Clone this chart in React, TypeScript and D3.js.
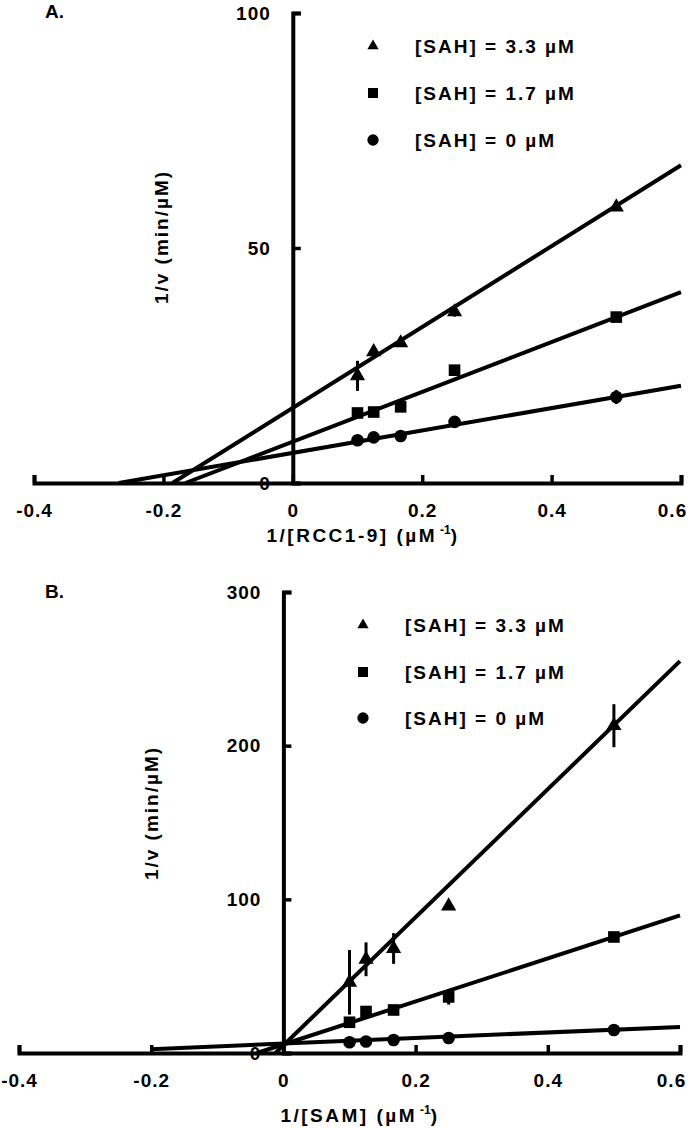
import React, { useEffect, useRef } from 'react';
import * as d3 from 'd3';

// shared x positions (1/[substrate], µM^-1)
const xTicks = [-0.4, -0.2, 0, 0.2, 0.4, 0.6];
const xInv = [0.1, 0.125, 0.1667, 0.25, 0.5];
const seriesNames = ['[SAH] = 3.3 µM', '[SAH] = 1.7 µM', '[SAH] = 0 µM'];
const markerTypes = ['triangle', 'square', 'circle'];

// panel A : 1/[RCC1-9]
const aTicksY = [0, 50, 100];
const aTri = [22.8, 27.9, 29.8, 36.4, 58.7];
const aTriErr = [3.2, 0.8, 0.5, 1.0, 0.8];
const aSq = [14.9, 15.1, 16.2, 24.0, 35.3];
const aSqErr = [0.5, 1.0, 0.5, 0.5, 0.5];
const aCirc = [9.1, 9.7, 10.0, 13.0, 18.3];
const aCircErr = [0.3, 0.3, 1.2, 0.5, 1.5];
const aLineTri = [[-0.186, 0], [0.6, 67.6]];
const aLineSq = [[-0.166, 0], [0.6, 40.6]];
const aLineCirc = [[-0.269, 0], [0.6, 20.7]];

// panel B : 1/[SAM]
const bTicksY = [0, 100, 200, 300];
const bTri = [46, 61, 68, 95.6, 213];
const bTriErr = [21, 11, 10, 0, 14];
const bSq = [20, 27, 28, 36.5, 75.5];
const bSqErr = [2, 2, 3, 5, 1];
const bCirc = [7, 7.5, 8.5, 9.8, 15];
const bCircErr = [0.5, 0.5, 0.5, 1, 1];
const bLineTri = [[-0.012, 0], [0.6, 255]];
const bLineSq = [[-0.04, 0], [0.6, 89.5]];
const bLineCirc = [[-0.2, 2.5], [0.6, 17]];

const FONT = "'Liberation Sans', Arial, sans-serif";

const panelA = {
  label: 'A.', labelX: 45, labelY: 18,
  xRange: [34, 681], yDomain: [0, 100], yRange: [483, 13], yTicks: aTicksY,
  xTitle: '1/[RCC1-9] (µM', xTitleX: 363, xTitleY: 542,
  yTitleX: 161, yTitleY: 237,
  legendX: 373, legendTextX: 415, legendY: [46, 93, 140],
  values: [aTri, aSq, aCirc], errs: [aTriErr, aSqErr, aCircErr],
  lines: [aLineTri, aLineSq, aLineCirc],
};

const panelB = {
  label: 'B.', labelX: 45, labelY: 598,
  xRange: [19, 680], yDomain: [0, 300], yRange: [1053, 592], yTicks: bTicksY,
  xTitle: '1/[SAM] (µM', xTitleX: 360, xTitleY: 1122,
  yTitleX: 151, yTitleY: 813,
  legendX: 363, legendTextX: 405, legendY: [625, 672, 718],
  values: [bTri, bSq, bCirc], errs: [bTriErr, bSqErr, bCircErr],
  lines: [bLineTri, bLineSq, bLineCirc],
};

function symbolFor(type, big) {
  if (type === 'triangle') return d3.symbol().type(d3.symbolTriangle).size(big ? 100 : 55)();
  if (type === 'square') return d3.symbol().type(d3.symbolSquare).size(big ? 135 : 100)();
  return d3.symbol().type(d3.symbolCircle).size(big ? 125 : 100)();
}

function drawPanel(svg, cfg) {
  const x = d3.scaleLinear().domain([-0.4, 0.6]).range(cfg.xRange);
  const y = d3.scaleLinear().domain(cfg.yDomain).range(cfg.yRange);
  const g = svg.append('g');

  // fitted lines
  const line = d3.line().x(d => x(d[0])).y(d => y(d[1]));
  cfg.lines.forEach(pts => {
    g.append('path').attr('d', line(pts)).attr('fill', 'none')
      .attr('stroke', '#000').attr('stroke-width', 4);
  });

  // axes
  const gx = g.append('g').attr('transform', `translate(0,${y(0)})`)
    .call(d3.axisBottom(x).tickValues(xTicks).tickSizeInner(-8).tickSizeOuter(-8)
      .tickPadding(21).tickFormat(d => String(d)));
  const gy = g.append('g').attr('transform', `translate(${x(0)},0)`)
    .call(d3.axisLeft(y).tickValues(cfg.yTicks).tickSizeInner(-8).tickSizeOuter(-8)
      .tickPadding(22).tickFormat(d => String(d)));
  [gx, gy].forEach(a => {
    a.attr('font-family', FONT).attr('font-size', 19).attr('font-weight', 'bold');
    a.select('.domain').attr('stroke-width', 4);
    a.selectAll('.tick line').attr('stroke-width', 3.5);
    a.selectAll('.tick text').attr('fill', '#000').style('letter-spacing', '1px');
  });
  // last label sits against the right edge of the figure
  gx.selectAll('.tick text').filter(d => d === 0.6).attr('dx', -9);

  // error bars + markers
  cfg.values.forEach((vals, s) => {
    vals.forEach((v, i) => {
      const e = cfg.errs[s][i];
      if (e > 0) {
        g.append('line').attr('x1', x(xInv[i])).attr('x2', x(xInv[i]))
          .attr('y1', y(v - e)).attr('y2', y(v + e))
          .attr('stroke', '#000').attr('stroke-width', 3);
      }
      g.append('path').attr('d', symbolFor(markerTypes[s], true))
        .attr('transform', `translate(${x(xInv[i])},${y(v)})`).attr('fill', '#000');
    });
  });

  // legend
  seriesNames.forEach((name, s) => {
    g.append('path').attr('d', symbolFor(markerTypes[s], false))
      .attr('transform', `translate(${cfg.legendX},${cfg.legendY[s]})`).attr('fill', '#000');
    g.append('text').text(name)
      .attr('x', cfg.legendTextX).attr('y', cfg.legendY[s]).attr('dy', '0.36em')
      .attr('font-family', FONT).attr('font-size', 19).attr('font-weight', 'bold')
      .style('letter-spacing', '2px');
  });

  // titles
  g.append('text').text(cfg.label).attr('x', cfg.labelX).attr('y', cfg.labelY)
    .attr('font-family', FONT).attr('font-size', 19).attr('font-weight', 'bold');

  const xt = g.append('text').attr('x', cfg.xTitleX).attr('y', cfg.xTitleY)
    .attr('text-anchor', 'middle').attr('font-family', FONT).attr('font-size', 19)
    .attr('font-weight', 'bold').style('letter-spacing', '2.5px');
  xt.append('tspan').text(cfg.xTitle);
  xt.append('tspan').text('-1').attr('font-size', 12).attr('dy', -8).attr('dx', 3).style('letter-spacing', '0px');
  xt.append('tspan').text(')').attr('dy', 8);

  g.append('text').text('1/v (min/µM)')
    .attr('transform', `translate(${cfg.yTitleX},${cfg.yTitleY}) rotate(-90)`)
    .attr('text-anchor', 'middle').attr('dy', '0.36em')
    .attr('font-family', FONT).attr('font-size', 19).attr('font-weight', 'bold')
    .style('letter-spacing', '2px');
}

export default function App() {
  const ref = useRef(null);
  useEffect(() => {
    const svg = d3.select(ref.current);
    svg.selectAll('*').remove();
    drawPanel(svg, panelA);
    drawPanel(svg, panelB);
  }, []);
  return (
    <svg ref={ref} width={693} height={1128}
      style={{ position: 'absolute', left: 0, top: 0, background: '#fff' }} />
  );
}
